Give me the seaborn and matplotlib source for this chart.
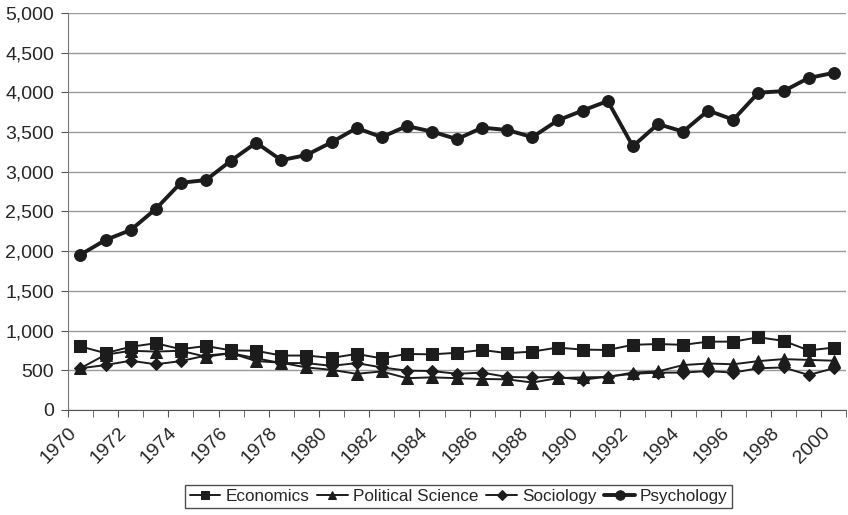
import numpy as np
import pandas as pd
import seaborn as sns
import matplotlib.pyplot as plt
from matplotlib.ticker import FuncFormatter, MultipleLocator

years = list(range(1970, 2001))

economics = [800, 715, 795, 840, 765, 805, 750, 745, 685, 685, 655, 705, 650, 705, 700,
             720, 755, 715, 735, 785, 760, 755, 820, 830, 820, 860, 860, 915, 870, 750, 785]
political_science = [525, 695, 745, 735, 745, 670, 715, 615, 595, 535, 505, 455, 485, 400, 410,
                     400, 390, 385, 345, 400, 410, 415, 470, 485, 565, 585, 575, 615, 640, 630, 620]
sociology = [525, 565, 620, 575, 615, 685, 715, 650, 590, 590, 555, 590, 535, 495, 490,
             455, 470, 415, 410, 415, 380, 420, 455, 470, 470, 490, 470, 525, 535, 440, 525]
psychology = [1955, 2140, 2265, 2530, 2860, 2895, 3140, 3365, 3145, 3210, 3370, 3550, 3435, 3575, 3505,
              3410, 3555, 3525, 3435, 3645, 3770, 3890, 3320, 3600, 3505, 3770, 3655, 3995, 4015, 4180, 4245]

series = ['Economics', 'Political Science', 'Sociology', 'Psychology']
markers = {'Economics': 's', 'Political Science': '^', 'Sociology': 'D', 'Psychology': 'o'}
msizes = {'Economics': 8, 'Political Science': 8, 'Sociology': 6.5, 'Psychology': 8.5}

df = pd.DataFrame({
    'Year': years * 4,
    'Count': economics + political_science + sociology + psychology,
    'Field': np.repeat(series, len(years)),
})
# points sit between the yearly tick marks
df['x'] = df['Year'] + 0.5

sns.set_style('white')
plt.rcParams['font.family'] = ['Liberation Sans', 'DejaVu Sans']

fig = plt.figure(figsize=(8.48, 5.15), dpi=100)
ax = fig.add_axes([0.080, 0.204, 0.918, 0.771])

ink = '#1c1c1c'
for name in series:
    sub = df[df['Field'] == name]
    big = name == 'Psychology'
    sns.lineplot(data=sub, x='x', y='Count', ax=ax, color=ink, label=name,
                 marker=markers[name], markersize=msizes[name],
                 markeredgecolor=ink, linewidth=2.8 if big else 1.4)

ax.set_xlim(1970, 2001)
ax.set_ylim(0, 5000)
ax.yaxis.set_major_locator(MultipleLocator(500))
ax.yaxis.set_major_formatter(FuncFormatter(lambda v, p: f'{int(v):,}'))
ax.set_xticks(list(range(1970, 2001, 2)))
ax.set_xticks(list(range(1970, 2002)), minor=True)
ax.set_xticklabels([str(y) for y in range(1970, 2001, 2)], rotation=45,
                   ha='right', va='top', rotation_mode='anchor')
ax.tick_params(axis='x', which='both', direction='out', length=5, color='#555555',
               bottom=True, labelsize=14, pad=5)
ax.tick_params(axis='y', direction='out', length=5, color='#555555', left=True,
               labelsize=14, pad=5)
ax.grid(axis='y', color='#9a9a9a', linewidth=1)
ax.set_axisbelow(True)
ax.set_xlabel('')
ax.set_ylabel('')
for side in ['top', 'right']:
    ax.spines[side].set_visible(False)
ax.spines['left'].set_color('#777777')
ax.spines['bottom'].set_color('#555555')

handles, labels = ax.get_legend_handles_labels()
leg = fig.legend(handles, labels, loc='lower center', bbox_to_anchor=(0.541, 0.003), ncol=4,
                 frameon=True, fancybox=False, edgecolor='#222222', fontsize=12.3,
                 handlelength=1.8, handletextpad=0.3, columnspacing=0.45,
                 borderpad=0.25, borderaxespad=0.3, markerscale=0.8)
leg.get_frame().set_linewidth(1.0)
ax.get_legend().remove()

fig.savefig('out.png', dpi=100)
